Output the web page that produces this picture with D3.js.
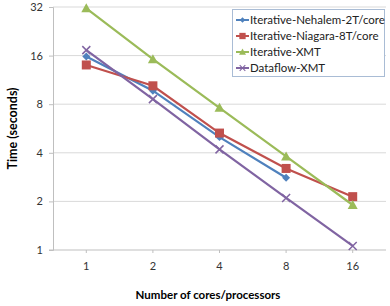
<!DOCTYPE html>
<html>
<head>
<meta charset="utf-8">
<script src="https://cdn.jsdelivr.net/npm/d3@7"></script>
<style>
  body { margin: 0; background: #fff; }
  text { font-family: Lato, "Open Sans", sans-serif; }
</style>
</head>
<body>
<script>
// values
var cores = ["1", "2", "4", "8", "16"];
var yTicks = [1, 2, 4, 8, 16, 32];
var nehalem = [15.8, 9.7, 5.0, 2.8, null];
var niagara = [14.0, 10.4, 5.3, 3.2, 2.14];
var xmt = [31.4, 15.2, 7.6, 3.8, 1.9];
var dataflow = [17.3, 8.6, 4.2, 2.1, 1.06];

var series = [
  {name: "Iterative-Nehalem-2T/core", values: nehalem, color: "#4F81BD", mark: "diamond"},
  {name: "Iterative-Niagara-8T/core", values: niagara, color: "#C0504D", mark: "square"},
  {name: "Iterative-XMT", values: xmt, color: "#9BBB59", mark: "triangle"},
  {name: "Dataflow-XMT", values: dataflow, color: "#8064A2", mark: "cross"}
];

var width = 390, height = 306;
var margin = {left: 53, right: 4, top: 7, bottom: 56};

var svg = d3.select("body").append("svg")
    .attr("width", width)
    .attr("height", height);

var x = d3.scaleBand()
    .domain(cores)
    .range([margin.left, width - margin.right]);

var y = d3.scaleLog().base(2)
    .domain([1, 32])
    .range([height - margin.bottom, margin.top]);

// grid
svg.append("g").selectAll("line")
    .data(yTicks.slice(1))
    .enter().append("line")
    .attr("x1", margin.left).attr("x2", width - margin.right)
    .attr("y1", function(d) { return y(d); })
    .attr("y2", function(d) { return y(d); })
    .attr("stroke", "#d9d9d9").attr("stroke-width", 1);

// y axis
var yAxis = d3.axisLeft(y).tickValues(yTicks).tickFormat(d3.format("d")).tickSize(4).tickPadding(6);
var gy = svg.append("g")
    .attr("transform", "translate(" + margin.left + ",0)")
    .call(yAxis);
gy.select(".domain").attr("stroke", "#bfbfbf");
gy.selectAll(".tick line").attr("stroke", "#bfbfbf");
gy.selectAll("text").attr("font-size", 11).attr("fill", "#333");

// x axis
var xAxis = d3.axisBottom(x).tickSize(3).tickPadding(9);
var gx = svg.append("g")
    .attr("transform", "translate(0," + (height - margin.bottom) + ")")
    .call(xAxis);
gx.select(".domain").attr("d", "M" + (margin.left - 4) + ",0H" + (width - margin.right)).attr("stroke", "#bfbfbf");
gx.selectAll(".tick line").attr("stroke", "#bfbfbf");
gx.selectAll("text").attr("font-size", 11).attr("fill", "#333");

var cx = function(i) { return x(cores[i]) + x.bandwidth() / 2; };

var line = d3.line()
    .defined(function(d) { return d != null; })
    .x(function(d, i) { return cx(i); })
    .y(function(d) { return y(d); });

function drawMark(g, kind, px, py, color) {
  if (kind === "diamond") {
    g.append("path").attr("d", d3.symbol().type(d3.symbolDiamond2).size(40)())
      .attr("transform", "translate(" + px + "," + py + ")").attr("fill", color);
  } else if (kind === "square") {
    g.append("rect").attr("x", px - 4.5).attr("y", py - 4.5).attr("width", 9).attr("height", 9).attr("fill", color);
  } else if (kind === "triangle") {
    g.append("path").attr("d", "M" + px + "," + (py - 5) + "L" + (px + 5) + "," + (py + 4) + "L" + (px - 5) + "," + (py + 4) + "Z")
      .attr("fill", color);
  } else {
    g.append("path").attr("d", "M" + (px - 4) + "," + (py - 4) + "L" + (px + 4) + "," + (py + 4) + "M" + (px + 4) + "," + (py - 4) + "L" + (px - 4) + "," + (py + 4))
      .attr("stroke", color).attr("stroke-width", 1.5).attr("fill", "none");
  }
}

series.forEach(function(s) {
  var g = svg.append("g");
  g.append("path")
    .datum(s.values)
    .attr("d", line)
    .attr("fill", "none")
    .attr("stroke", s.color)
    .attr("stroke-width", 2.2);
  s.values.forEach(function(v, i) {
    if (v != null) drawMark(g, s.mark, cx(i), y(v), s.color);
  });
});

// legend
var leg = svg.append("g");
leg.append("rect")
    .attr("x", 232.5).attr("y", 9.5).attr("width", 152).attr("height", 67)
    .attr("fill", "#fff").attr("stroke", "#a9bcd5");
series.forEach(function(s, i) {
  var ly = 20 + i * 16;
  leg.append("line").attr("x1", 236).attr("x2", 249).attr("y1", ly).attr("y2", ly)
    .attr("stroke", s.color).attr("stroke-width", 2);
  var mk = leg.append("g");
  drawMark(mk, s.mark, 242.5, ly, s.color);
  mk.attr("transform", "translate(242.5," + ly + ") scale(0.7) translate(-242.5," + (-ly) + ")");
  leg.append("text").attr("x", 250).attr("y", ly + 4)
    .attr("font-size", 11.5).attr("fill", "#222").text(s.name);
});

// axis titles
svg.append("text")
    .attr("transform", "translate(17," + (margin.top + (height - margin.bottom - margin.top) / 2) + ") rotate(-90)")
    .attr("text-anchor", "middle")
    .attr("font-size", 12.5).attr("font-weight", "bold")
    .text("Time (seconds)");

svg.append("text")
    .attr("x", 208).attr("y", 299)
    .attr("text-anchor", "middle")
    .attr("font-size", 11.5).attr("font-weight", "bold")
    .text("Number of cores/processors");
</script>
</body>
</html>
